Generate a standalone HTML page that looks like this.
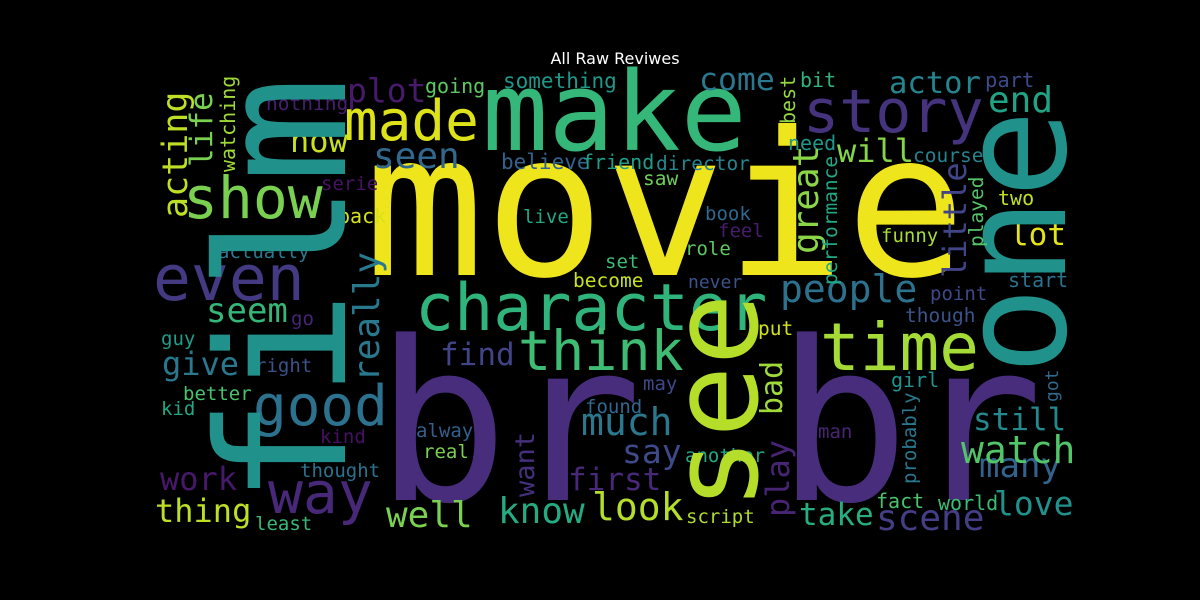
<!DOCTYPE html>
<html><head><meta charset="utf-8"><style>
html,body{margin:0;padding:0;background:#000;width:1200px;height:600px;overflow:hidden}
svg{display:block}
text.w{font-family:"DejaVu Sans Mono","Liberation Mono",monospace}
</style></head><body>
<svg id="cloud" width="1200" height="600" viewBox="0 0 1200 600" xmlns="http://www.w3.org/2000/svg">
<rect x="0" y="0" width="1200" height="600" fill="#000"/>
<text x="615" y="64" fill="#fff" font-family="DejaVu Sans, Liberation Sans, sans-serif" font-size="16" text-anchor="middle">All Raw Reviwes</text>
<g id="words"></g>
</svg>
<script>
// word, font size (frequency weight), color, left/x, baseline/y, vertical flag
const words = ["movie","br br","make","story","character","think","time","show","even","good","way","made","now","plot","going","nothing","something","seen","serie","back","live","actually","believe","friend","director","saw","come","bit","actor","part","end","will","need","course","two","lot","book","feel","funny","role","set","become","never","start","point","people","though","put","seem","go","guy","give","right","find","better","kid","kind","alway","real","much","may","found","say","another","first","thought","work","thing","least","well","know","look","script","take","scene","fact","world","love","many","watch","still","man","girl",
"film","one","see","really","acting","life","watching","great","best","performance","little","played","want","play","bad","probably","got"];
const sizes = [200,222,110,60,65,55,66,58,63,56,58,56,32,33,20,19.5,21,36,19,20,19,19,21,20,19.5,19.5,31.5,20,30.5,20.5,36,32,20,19.5,20,31,19,19,19,19,19,19.5,18,20,19,38,19.5,19.5,34,19,19,32,19,31,19,19,19,19,19,38,19,19,33,19,31,19,32,32,19,36,36,38,19,31,36,20,20,33,34,38,31,19,20,
178,147,120,36,35,31,20,36,20,19.5,32,19.5,27,32,30,19,18];
const colors = ["#efe51c","#472d7b","#35b779","#46337e","#2fb47c","#3fbc73","#a5db36","#7ad151","#443a83","#2c728e","#482878","#dde318","#c8e020","#481a6c","#5ec962","#481f70","#1f988b","#31688e","#471365","#d8e219","#22a884","#2a788e","#33638d","#1f9e89","#25858e","#6ece58","#2a788e","#2fb47c","#25858e","#3e4a89","#20a386","#86d549","#1f988b","#26828e","#c2df23","#e5e419","#31688e","#481c6e","#a8db34","#5ec962","#3dbc74","#c8e020","#3b528b","#2c728e","#3e4989","#2c728e","#3b528b","#d0e11c","#35b779","#482475","#1f9e89","#2a788e","#3b528b","#414487","#4ac16d","#22a884","#471063","#355f8d","#7ad151","#2a788e","#3e4989","#31688e","#3e4a89","#22a884","#482979","#2c728e","#48186a","#bddf26","#37b878","#7ad151","#25ab82","#b5de2b","#addc30","#27ad81","#433e85","#4ac16d","#3dbc74","#21918c","#33638d","#52c569","#23898e","#482576","#20928c",
"#21918c","#21918c","#b5de2b","#29798e","#bddf26","#7ad151","#a0da39","#8bd646","#93d741","#22a884","#414487","#54c568","#46307e","#482475","#9fda3a","#2a788e","#31688e"];
const posX = [364,375,482,803,415,518,820,183,153,253,268,344,290,347,425,266,503,373,321,338,523,218,501,582,656,643,699,800,889,985,988,837,788,913,998,1010,705,718,881,685,605,573,688,1008,930,780,905,758,206,291,161,162,255,440,183,161,320,416,423,581,643,585,622,685,568,300,160,155,255,386,498,592,686,799,876,876,938,994,979,961,973,818,891,
345,1065,757,379,187,212,235,818,795,837,966,983,534,789,782,916,1058];
const posY = [275,500,150,132,330,370,370,218,300,425,513,140,152,102,93,110,88,168,190,223,223,258,169,169,170,185,90,87,93,87,112,162,150,162,205,245,220,237,242,255,268,287,288,287,300,302,322,335,322,325,345,375,372,365,400,415,443,437,458,435,390,413,463,462,490,477,490,522,530,527,523,520,523,525,530,508,510,515,477,463,430,438,387,
505,375,510,382,218,167,172,254,124,285,278,247,497,517,415,484,402];
const vertical = [0,0,0,0,0,0,0,0,0,0,0,0,0,0,0,0,0,0,0,0,0,0,0,0,0,0,0,0,0,0,0,0,0,0,0,0,0,0,0,0,0,0,0,0,0,0,0,0,0,0,0,0,0,0,0,0,0,0,0,0,0,0,0,0,0,0,0,0,0,0,0,0,0,0,0,0,0,0,0,0,0,0,0,
1,1,1,1,1,1,1,1,1,1,1,1,1,1,1,1,1];

const g = document.getElementById('words');
const NS = 'http://www.w3.org/2000/svg';
for (let i = 0; i < words.length; i++) {
  const t = document.createElementNS(NS, 'text');
  t.setAttribute('class', 'w');
  t.setAttribute('font-size', sizes[i]);
  t.setAttribute('fill', colors[i]);
  if (vertical[i]) {
    t.setAttribute('transform', 'translate(' + posX[i] + ',' + posY[i] + ') rotate(-90)');
  } else {
    t.setAttribute('x', posX[i]);
    t.setAttribute('y', posY[i]);
  }
  t.textContent = words[i];
  
  
  g.appendChild(t);
}
</script>
</body></html>
